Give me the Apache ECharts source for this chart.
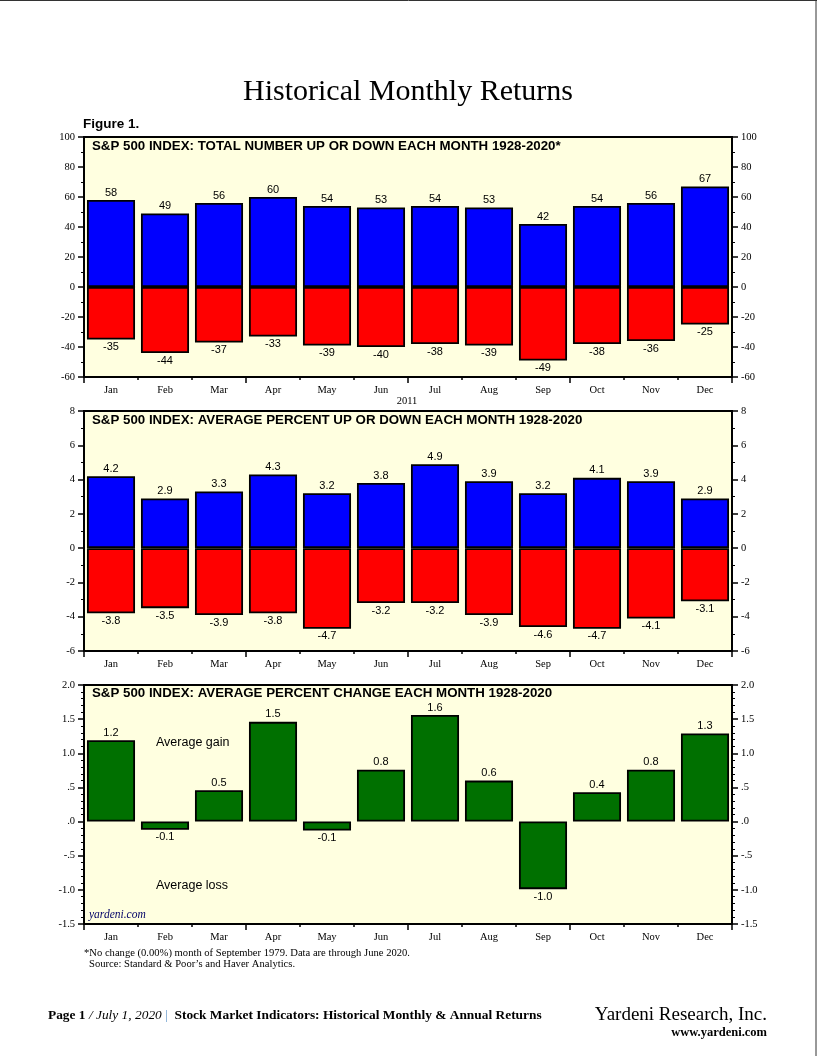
<!DOCTYPE html>
<html><head><meta charset="utf-8">
<script src="https://cdn.jsdelivr.net/npm/echarts@6/dist/echarts.min.js"></script>
<style>html,body{margin:0;padding:0;background:#fff}#c{width:817px;height:1056px}</style>
</head><body><div id="c"></div>
<script>
const months = ['Jan','Feb','Mar','Apr','May','Jun','Jul','Aug','Sep','Oct','Nov','Dec'];
const upCount   = [58,49,56,60,54,53,54,53,42,54,56,67];
const downCount = [-35,-44,-37,-33,-39,-40,-38,-39,-49,-38,-36,-25];
const upPct     = [4.2,2.9,3.3,4.3,3.2,3.8,4.9,3.9,3.2,4.1,3.9,2.9];
const downPct   = [-3.8,-3.5,-3.9,-3.8,-4.7,-3.2,-3.2,-3.9,-4.6,-4.7,-4.1,-3.1];
const avgChange = [1.19,-0.12,0.46,1.46,-0.13,0.76,1.56,0.6,-0.99,0.43,0.76,1.29];
const ticks1 = ['-60','-40','-20','0','20','40','60','80','100'];
const ticks2 = ['-6','-4','-2','0','2','4','6','8'];
const ticks3 = ['-1.5','-1.0','-.5','.0','.5','1.0','1.5','2.0'];

const SANS = 'Liberation Sans', SERIF = 'Liberation Serif';
const chart = echarts.init(document.getElementById('c'), null, {renderer:'canvas'});

const panels = [
  {top:137, height:240, min:-60, max:100, interval:20, minor:2, ticks:ticks1},
  {top:411, height:240, min:-6, max:8, interval:2, minor:2, ticks:ticks2},
  {top:685, height:239, min:-1.5, max:2, interval:0.5, minor:5, ticks:ticks3}
];
const grids = [], xAxes = [], yAxes = [];
panels.forEach((p, g) => {
  grids.push({left:84, width:648, top:p.top, height:p.height, show:true,
    backgroundColor:'#ffffe0', borderColor:'#000', borderWidth:2});
  xAxes.push({type:'category', gridIndex:g, data:months, position:'bottom',
    axisLine:{onZero:false, lineStyle:{color:'#000', width:2}},
    axisTick:{show:true, length:3, lineStyle:{color:'#000', width:1.5}},
    axisLabel:{fontFamily:SERIF, fontSize:10.5, color:'#000', margin:8}});
  xAxes.push({type:'category', gridIndex:g, data:months, position:'bottom',
    axisLine:{show:false, onZero:false}, axisLabel:{show:false},
    axisTick:{show:true, length:6, interval:(i)=> i%3===0, lineStyle:{color:'#000', width:1.5}}});
  const fmt = (v) => { const i = Math.round((v - p.min)/p.interval); return p.ticks[i] !== undefined ? p.ticks[i] : ''; };
  ['left','right'].forEach(pos => {
    yAxes.push({type:'value', gridIndex:g, position:pos, min:p.min, max:p.max, interval:p.interval,
      splitLine:{show:false},
      axisLine:{show:true, onZero:false, lineStyle:{color:'#000', width:2}},
      axisTick:{show:true, length:6, lineStyle:{color:'#000', width:1.5}},
      minorTick:{show:true, splitNumber:p.minor, length:3, lineStyle:{color:'#000', width:1}},
      axisLabel:{fontFamily:SERIF, fontSize:10.5, color:'#000', margin:9, formatter:fmt}});
  });
});

const lbl = {show:true, fontFamily:SANS, fontSize:11, color:'#000', distance:2};
const bar = (xi, yi, data, color, fmt) => ({
  type:'bar', xAxisIndex:xi, yAxisIndex:yi, barGap:'-100%', barCategoryGap:'11%',
  itemStyle:{color:color, borderColor:'#000', borderWidth:1.8},
  data:data.map(v => ({value:v, label:Object.assign({}, lbl, {position: v<0?'bottom':'top',
     formatter: fmt ? fmt(v) : String(v)})})),
  silent:true, animation:false
});
const series = [
  bar(0,0,upCount,'#0000ff'), bar(0,0,downCount,'#ff0000'),
  bar(2,2,upPct,'#0000ff', v=>v.toFixed(1)), bar(2,2,downPct,'#ff0000', v=>v.toFixed(1)),
  bar(4,4,avgChange,'#007000', v=>v.toFixed(1))
];

const txt = (x, y, text, font, extra) => ({type:'text', left:x, top:y, silent:true,
  style:Object.assign({text:text, font:font, fill:'#000'}, extra||{})});

chart.setOption({
  animation:false,
  grid:grids, xAxis:xAxes, yAxis:yAxes, series:series,
  graphic:[
    {type:'line', shape:{x1:0,y1:0.5,x2:817,y2:0.5}, style:{stroke:'#333', lineWidth:1}},
    {type:'line', shape:{x1:816,y1:0,x2:816,y2:1056}, style:{stroke:'#333', lineWidth:1}},
    {type:'text', x:408, y:92, style:{text:'Historical Monthly Returns', font:'30px "Liberation Serif"', fill:'#000', textAlign:'center', textVerticalAlign:'middle'}},
    txt(83, 117, 'Figure 1.', 'bold 13.5px "Liberation Sans"'),
    txt(92, 140, 'S&P 500 INDEX: TOTAL NUMBER UP OR DOWN EACH MONTH 1928-2020*', 'bold 13.3px "Liberation Sans"'),
    txt(92, 414, 'S&P 500 INDEX: AVERAGE PERCENT UP OR DOWN EACH MONTH 1928-2020', 'bold 13.3px "Liberation Sans"'),
    txt(92, 687, 'S&P 500 INDEX: AVERAGE PERCENT CHANGE EACH MONTH 1928-2020', 'bold 13.3px "Liberation Sans"'),
    {type:'text', x:407, y:401, style:{text:'2011', font:'10.5px "Liberation Serif"', fill:'#000', textAlign:'center', textVerticalAlign:'middle'}},
    txt(156, 736, 'Average gain', '12.5px "Liberation Sans"'),
    txt(156, 879, 'Average loss', '12.5px "Liberation Sans"'),
    txt(89, 909, 'yardeni.com', 'italic 11.5px "Liberation Serif"', {fill:'#000066'}),
    txt(84, 948, '*No change (0.00%) month of September 1979. Data are through June 2020.', '10.6px "Liberation Serif"'),
    txt(89, 959, 'Source: Standard & Poor\u2019s and Haver Analytics.', '10.6px "Liberation Serif"'),
    {type:'text', left:48, top:1009, silent:true, style:{
      text:'{b|Page 1 }{i|/ July 1, 2020 }{p||}{b|  Stock Market Indicators: Historical Monthly & Annual Returns}',
      rich:{
        b:{fontFamily:SERIF, fontWeight:'bold', fontSize:13.4, fill:'#000'},
        i:{fontFamily:SERIF, fontStyle:'italic', fontSize:13.4, fill:'#000'},
        p:{fontFamily:SERIF, fontSize:13.4, fill:'#6699cc'}
      }}},
    {type:'text', x:767, y:1015, style:{text:'Yardeni Research, Inc.', font:'19px "Liberation Serif"', fill:'#000', textAlign:'right', textVerticalAlign:'middle'}},
    {type:'text', x:767, y:1033, style:{text:'www.yardeni.com', font:'bold 12.5px "Liberation Serif"', fill:'#000', textAlign:'right', textVerticalAlign:'middle'}}
  ]
});
</script></body></html>
